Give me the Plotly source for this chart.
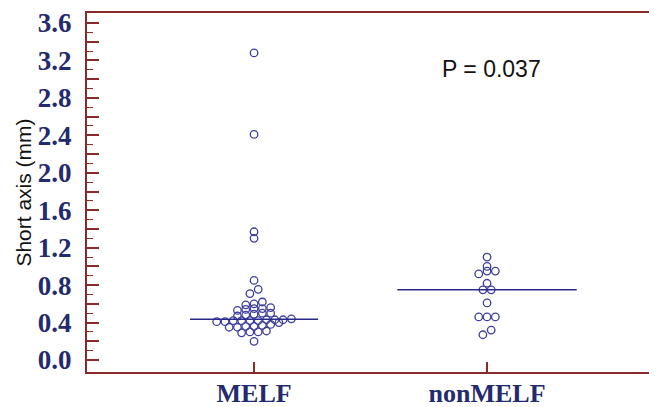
import numpy as np
import plotly.graph_objects as go

categories = ["MELF", "nonMELF"]
melf_values = [3.28, 2.41, 1.37, 1.30, 0.85, 0.755, 0.71,
               0.62, 0.60, 0.59,
               0.56, 0.55, 0.55, 0.54, 0.53,
               0.50, 0.50, 0.49, 0.48, 0.47,
               0.44, 0.43, 0.43, 0.43, 0.42, 0.42, 0.42, 0.42, 0.41, 0.41, 0.40,
               0.38, 0.37, 0.36, 0.36, 0.35, 0.35,
               0.31, 0.30, 0.30, 0.29,
               0.20]
nonmelf_values = [1.10, 1.00, 0.95, 0.95, 0.92, 0.82, 0.75, 0.75, 0.61, 0.46, 0.46,
                  0.46, 0.32, 0.27]
y_tick_values = [round(0.2 * i, 1) for i in range(19)]
y_tick_labels = [f"{v:.1f}" if abs((v / 0.4) - round(v / 0.4)) < 1e-6 else "" for v in y_tick_values]
p_text = "P = 0.037"

# layout constants (page body has an 8px default margin, so the figure is
# sized to fit the 657x407 window from (8, 8))
W, H = 649, 399
ML, MR, MT, MB = 79, 5, 5, 35
XR = [-0.717, 1.708]
YR = [-0.128, 3.707]
px_x = (W - ML - MR) / (XR[1] - XR[0])
px_y = (H - MT - MB) / (YR[1] - YR[0])
ROW_H = 0.06      # row height (data units) for dot-plot binning
SPACING = 8.3     # horizontal spacing of dots in a row (px)
CLOSE_PX = 6.0    # single dots closer than this vertically get side-stepped


def dot_offsets(values):
    """MedCalc-like dot plot: bin values into rows around the median and
    spread each row symmetrically."""
    vals = np.asarray(values, dtype=float)
    anchor = np.median(vals)
    rows = np.floor((vals - anchor) / ROW_H + 0.5 + 1e-9).astype(int)
    offs = np.zeros(len(vals))
    singles = []
    for r in np.unique(rows):
        idx = np.where(rows == r)[0]
        idx = idx[np.argsort(vals[idx], kind="stable")]
        n = len(idx)
        for k, i in enumerate(idx):
            offs[i] = (k - (n - 1) / 2) * SPACING / px_x
        if n == 1:
            singles.append((r, idx[0]))
    # side-step lone dots in adjacent rows that would sit on top of each other
    for (r1, i1), (r2, i2) in zip(singles, singles[1:]):
        if r2 == r1 + 1 and offs[i1] == 0 and offs[i2] == 0 \
                and abs(vals[i2] - vals[i1]) * px_y < CLOSE_PX:
            offs[i1] = -SPACING / 2 / px_x
            offs[i2] = SPACING / 2 / px_x
    return offs


fig = go.Figure()
groups = [melf_values, nonmelf_values]
half_widths = [0.275, 0.385]
point_color = "#3f3f9f"
line_color = "#2a2a8c"
for gi, vals in enumerate(groups):
    vals = np.array(vals)
    offs = dot_offsets(vals)
    fig.add_trace(go.Scatter(
        x=gi + offs, y=vals, mode="markers",
        marker=dict(symbol="circle-open", size=7.5, color=point_color,
                    line=dict(width=1.3, color=point_color)),
        showlegend=False, hoverinfo="y"))
    med = float(np.median(vals))
    fig.add_trace(go.Scatter(
        x=[gi - half_widths[gi], gi + half_widths[gi]], y=[med, med], mode="lines",
        line=dict(color=line_color, width=1.6), showlegend=False, hoverinfo="skip"))

frame_color = "#8b2a2a"
label_font = dict(family="Liberation Serif", size=27, color="#232a6e", weight="bold")
x_label_font = dict(family="Liberation Serif", size=26, color="#232a6e", weight="bold")

fig.update_layout(
    width=W, height=H,
    margin=dict(l=ML, r=MR, t=MT, b=MB, autoexpand=False),
    plot_bgcolor="white", paper_bgcolor="white",
    xaxis=dict(range=XR, tickmode="array", tickvals=[0, 1], ticktext=categories,
               ticks="inside", ticklen=10, tickwidth=1.5, tickcolor=frame_color,
               showline=True, linecolor=frame_color, linewidth=2, mirror=True,
               showgrid=False, zeroline=False, tickfont=x_label_font, automargin=False,
               ticklabelstandoff=-3),
    yaxis=dict(range=YR, tickmode="array", tickvals=y_tick_values, ticktext=y_tick_labels,
               ticks="inside", ticklen=12, tickwidth=1.5, tickcolor=frame_color,
               minor=dict(tickmode="array", tickvals=[round(0.1 + 0.2 * i, 1) for i in range(18)],
                          ticks="inside", ticklen=6, tickwidth=1.2, tickcolor=frame_color,
                          showgrid=False),
               showline=True, linecolor=frame_color, linewidth=2, mirror=True,
               showgrid=False, zeroline=False, tickfont=label_font, automargin=False,
               ticklabelstandoff=8,
               title=dict(text="Short axis (mm)", standoff=0,
                          font=dict(family="Liberation Sans", size=21, color="#111111"))),
    annotations=[dict(x=1.017, y=3.11, xref="x", yref="y", text=p_text, showarrow=False,
                      font=dict(family="Liberation Sans", size=23, color="#111111"))],
)

fig.write_html("out.html")
